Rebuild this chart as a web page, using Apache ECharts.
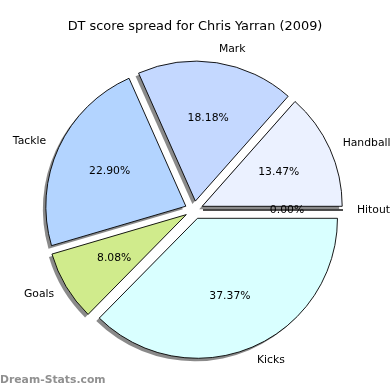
<!DOCTYPE html>
<html>
<head>
<meta charset="utf-8">
<script src="https://cdn.jsdelivr.net/npm/echarts@6/dist/echarts.min.js"></script>
<style>
html,body{margin:0;padding:0;background:#fff;}
#chart{width:390px;height:390px;}
</style>
</head>
<body>
<div id="chart"></div>
<script>
// Data (DT points per stat)
const categories = ['Hitout', 'Handball', 'Mark', 'Tackle', 'Goals', 'Kicks'];
const values = [0, 80, 108, 136, 48, 222];
const sliceColors = ['#e6e6e6', '#ebf1ff', '#c4d8ff', '#b3d4ff', '#d0eb8c', '#d9ffff'];
const titleText = 'DT score spread for Chris Yarran (2009)';
const watermark = 'Dream-Stats.com';

const total = values.reduce((a, b) => a + b, 0);
const FONT = 'DejaVu Sans';
const CENTER = [194, 210];
const R = 140;
const EXPLODE = 9;

const chart = echarts.init(document.getElementById('chart'), null, {renderer: 'canvas'});

const common = {
  type: 'pie',
  center: CENTER,
  startAngle: 0,
  clockwise: false,
  selectedMode: 'multiple',
  selectedOffset: EXPLODE,
  avoidLabelOverlap: false,
  minAngle: 0,
  animation: false,
  silent: true,
  emphasis: {disabled: true, scale: false},
  labelLine: {show: false, length: 14, length2: 0}
};

const labelBase = {fontFamily: FONT, fontSize: 10.8, color: '#000', padding: [4, 0, 0, 0]};

chart.setOption({
  backgroundColor: '#ffffff',
  animation: false,
  title: [
    {
      text: titleText,
      left: 'center',
      top: 20,
      padding: 0,
      textStyle: {fontFamily: FONT, fontSize: 12.9, fontWeight: 'normal', color: '#000'}
    },
    {
      text: watermark,
      left: 0,
      top: 375,
      padding: 0,
      textStyle: {fontFamily: FONT, fontSize: 10.8, fontWeight: 'bold', color: '#909090'}
    }
  ],
  series: [
    // filled wedges with drop shadow
    Object.assign({}, common, {
      name: 'fill',
      radius: [0, R],
      label: {show: false},
      itemStyle: {
        borderWidth: 0,
        shadowColor: 'rgba(60,60,60,0.6)',
        shadowBlur: 0,
        shadowOffsetX: -3,
        shadowOffsetY: 3
      },
      data: categories.map((n, i) => ({
        name: n, value: values[i], selected: true,
        itemStyle: {color: sliceColors[i]}
      }))
    }),
    // wedge outlines + category labels
    Object.assign({}, common, {
      name: 'outline',
      radius: [0, R],
      itemStyle: {color: 'rgba(0,0,0,0)', borderColor: '#000', borderWidth: 0.9},
      label: Object.assign({show: true, position: 'outside', distanceToLabelLine: 0}, labelBase),
      data: categories.map((n, i) => ({name: n, value: values[i], selected: true}))
    }),
    // percentage labels
    Object.assign({}, common, {
      name: 'pct',
      radius: [0, 162],
      itemStyle: {color: 'rgba(0,0,0,0)', borderWidth: 0},
      label: Object.assign({
        show: true,
        position: 'inside',
        formatter: p => (values[p.dataIndex] / total * 100).toFixed(2) + '%'
      }, labelBase),
      data: categories.map((n, i) => ({name: n, value: values[i], selected: true}))
    })
  ]
});
</script>
</body>
</html>
